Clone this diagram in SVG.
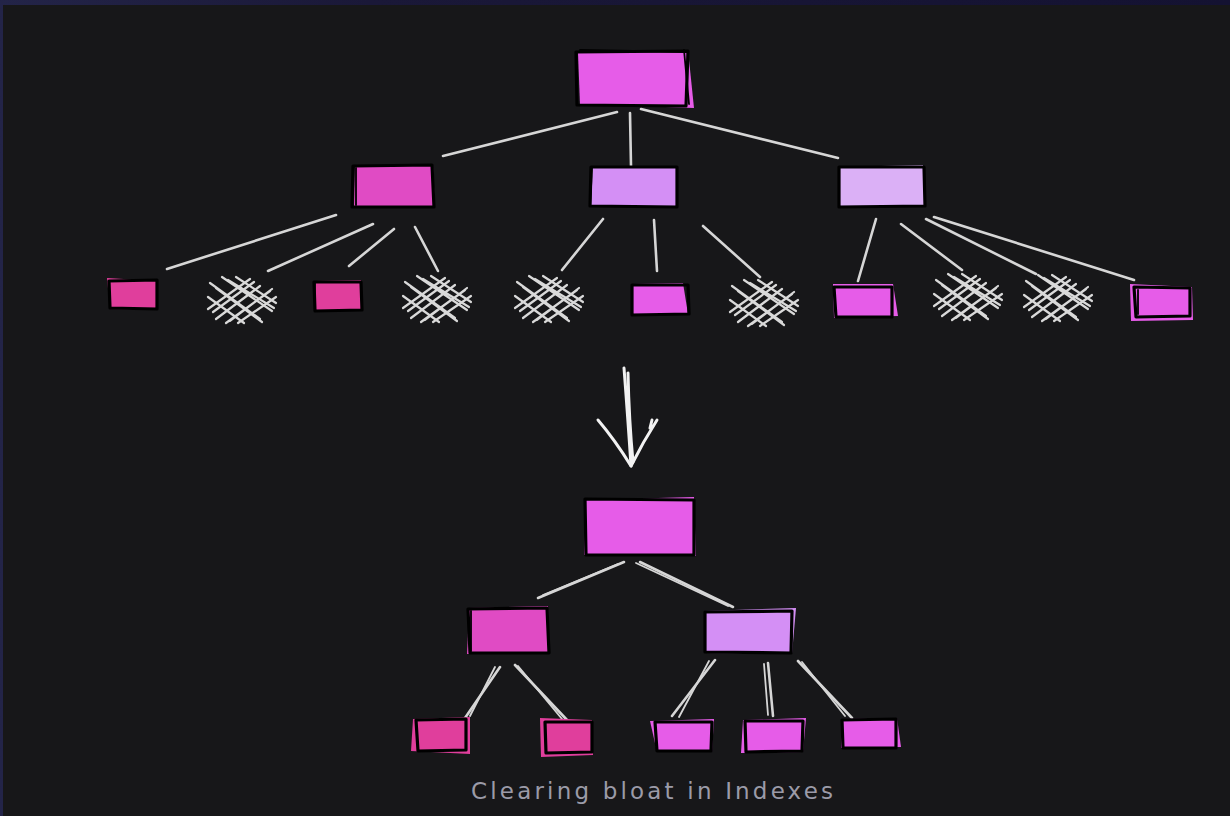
<svg xmlns="http://www.w3.org/2000/svg" width="1230" height="816" viewBox="0 0 1230 816">
<defs>
<linearGradient id="frame" x1="0" y1="0" x2="1" y2="0">
<stop offset="0" stop-color="#232448"/><stop offset="0.3" stop-color="#1a1838"/><stop offset="1" stop-color="#141232"/>
</linearGradient>
<g id="hatch">
<path d="M0,32 L42,2 M8,42 L52,9 M18,46 L62,14 M30,46 L68,20 M5,35 L46,5 M22,44 L64,12"/>
<path d="M2,6 L52,42 M14,0 L64,34 M0,20 L36,46 M28,0 L68,26 M8,11 L54,45 M20,3 L66,31"/>
</g>
<style>
.ol{fill:none;stroke:#000;stroke-width:3.2;stroke-linejoin:round;stroke-linecap:round}
.ol2{fill:none;stroke:#000;stroke-width:1.8;stroke-linecap:round}
.mag{fill:#e65ce8}
.pnk{fill:#e04bc4}
.rose{fill:#e03e9c}
.lav{fill:#d48ff5}
.lil{fill:#dbb0f6}
.edge{stroke:#d6d6d6;stroke-width:2.6;stroke-linecap:round;fill:none}
.edge2{stroke:#d6d6d6;stroke-width:1.8;stroke-linecap:round;fill:none}
.hat{stroke:#d9d9d9;stroke-width:2.2;stroke-linecap:round;fill:none}
.arr{stroke:#f2f2f2;stroke-width:3;stroke-linecap:round;fill:none}
.cap{font-family:"DejaVu Sans","Liberation Sans",sans-serif;font-size:23px;fill:#9b9ba8}
</style>
</defs>
<rect x="0" y="0" width="1230" height="816" fill="url(#frame)"/>
<rect x="3" y="5" width="1227" height="811" fill="#171719"/>

<g id="connectors">
<path class="edge" d="M617,112 L443,156 M630,113 L631,166 M641,109 L838,158"/>
<path class="edge" d="M336,215 L167,269 M373,224 L268,271 M394,229 L349,266 M415,227 L438,271"/>
<path class="edge" d="M603,219 L562,270 M654,220 L657,271 M703,226 L760,277"/>
<path class="edge" d="M876,219 L858,281 M901,224 L962,270 M926,219 L1036,274 M934,217 L1134,280"/>
<path class="edge" d="M624,562 L538,598 M640,562 L733,607"/>
<path class="edge2" d="M618,564 L543,595 M636,563 L728,606"/>
<path class="edge" d="M500,667 L465,718 M515,665 L567,720"/>
<path class="edge2" d="M495,667 L470,716 M518,666 L562,719"/>
<path class="edge" d="M715,660 L672,716 M768,663 L773,716 M798,661 L852,718"/>
<path class="edge2" d="M709,661 L679,717 M764,664 L768,715 M802,662 L845,716"/>
<g id="arrow">
<path class="arr" d="M624,368 Q628,420 631,466 M628,373 Q629,420 633,462"/>
<path class="arr" d="M598,420 Q615,440 631,466 M657,420 Q643,442 631,466 M652,420 L650,428"/>
</g>
</g>

<g id="root1"><path class="mag" d="M578,53 L688,50 L694,108 L580,104 Z"/><path class="ol" d="M576,52 L688,51 L686,106 L577,105 Z"/><path class="ol2" d="M580,50 L687,52 M684,50 L689,104"/></g>

<g id="n-a"><path class="pnk" d="M355,167 L433,165 L435,208 L354,206 Z"/><path class="ol" d="M353,166 L432,165 L434,207 L352,207 Z"/><path class="ol2" d="M356,168 L356,205"/></g>
<g id="n-b"><path class="lav" d="M593,167 L676,166 L678,207 L591,206 Z"/><path class="ol" d="M591,167 L677,167 L677,207 L590,206 Z"/></g>
<g id="n-c"><path class="lil" d="M840,167 L923,165 L925,207 L838,206 Z"/><path class="ol" d="M839,167 L924,167 L925,206 L839,207 Z"/></g>

<g id="l1"><path class="rose" d="M107,278 L157,281 L158,310 L110,309 Z"/><path class="ol" d="M109,281 L157,280 L157,309 L110,308 Z"/></g>
<g id="h1" class="hat"><use href="#hatch" transform="translate(208,277)"/></g>
<g id="l2"><path class="rose" d="M316,281 L361,280 L362,311 L315,310 Z"/><path class="ol" d="M314,282 L361,282 L362,310 L315,311 Z"/></g>
<g id="h2" class="hat"><use href="#hatch" transform="translate(403,276)"/></g>
<g id="h3" class="hat"><use href="#hatch" transform="translate(515,276)"/></g>
<g id="l3"><path class="mag" d="M633,284 L683,283 L688,314 L633,314 Z"/><path class="ol" d="M632,285 L688,285 L689,314 L632,315 Z"/></g>
<g id="h4" class="hat"><use href="#hatch" transform="translate(730,280)"/></g>
<g id="l4"><path class="mag" d="M833,284 L893,284 L898,316 L834,318 Z"/><path class="ol" d="M834,287 L892,287 L892,317 L836,317 Z"/></g>
<g id="h5" class="hat"><use href="#hatch" transform="translate(934,274)"/></g>
<g id="h6" class="hat"><use href="#hatch" transform="translate(1024,275)"/></g>
<g id="l5"><path class="mag" d="M1130,284 L1192,287 L1193,320 L1131,321 Z"/><path class="ol" d="M1134,287 L1190,288 L1190,316 L1136,317 Z"/><path class="ol2" d="M1138,290 L1138,314"/></g>

<g id="root2"><path class="mag" d="M586,500 L694,497 L696,556 L584,555 Z"/><path class="ol" d="M585,499 L694,500 L694,555 L586,555 Z"/></g>
<g id="n-d"><path class="pnk" d="M469,608 L548,606 L549,652 L467,654 Z"/><path class="ol" d="M468,609 L547,608 L549,653 L470,653 Z"/><path class="ol2" d="M471,611 L471,651"/></g>
<g id="n-e"><path class="lav" d="M704,611 L796,608 L792,654 L705,653 Z"/><path class="ol" d="M705,612 L792,611 L791,653 L705,652 Z"/></g>

<g id="b1"><path class="rose" d="M413,719 L470,717 L470,754 L411,751 Z"/><path class="ol" d="M416,720 L466,719 L466,750 L418,751 Z"/></g>
<g id="b2"><path class="rose" d="M540,718 L592,720 L593,755 L541,757 Z"/><path class="ol" d="M545,722 L592,722 L592,752 L546,753 Z"/></g>
<g id="b3"><path class="mag" d="M650,721 L714,719 L712,752 L657,752 Z"/><path class="ol" d="M655,722 L712,722 L711,751 L657,751 Z"/></g>
<g id="b4"><path class="mag" d="M743,720 L806,718 L803,752 L741,753 Z"/><path class="ol" d="M745,721 L803,721 L802,751 L746,752 Z"/></g>
<g id="b5"><path class="mag" d="M842,719 L897,718 L901,747 L841,748 Z"/><path class="ol" d="M842,720 L896,719 L896,748 L843,748 Z"/></g>

<text class="cap" x="471" y="799" textLength="362" lengthAdjust="spacing">Clearing bloat in Indexes</text>
</svg>
